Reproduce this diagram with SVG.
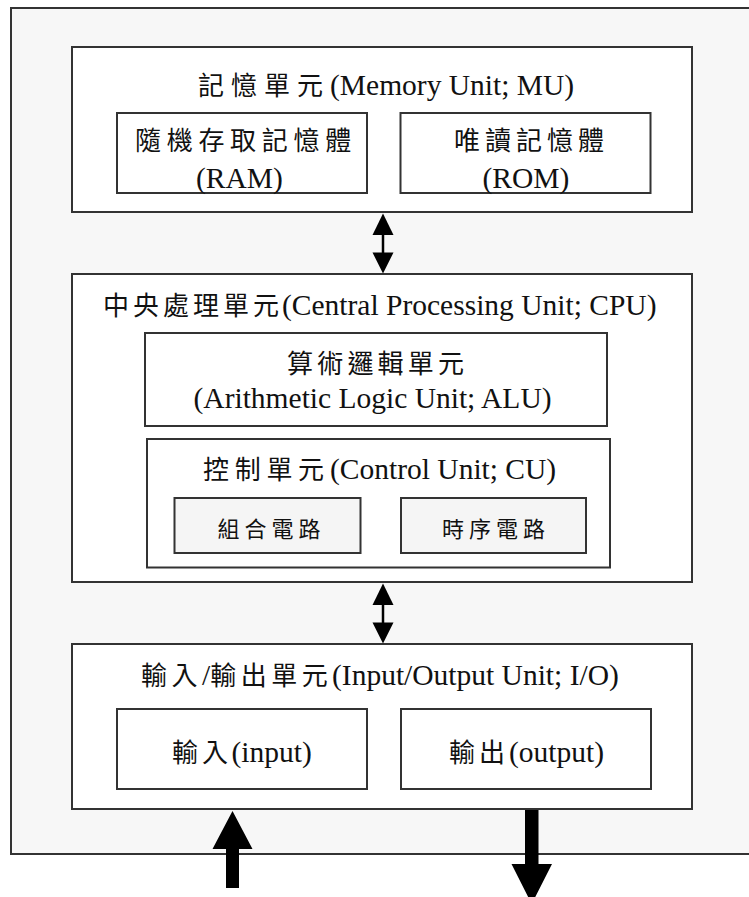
<svg xmlns="http://www.w3.org/2000/svg" width="749" height="897" viewBox="0 0 749 897">
<style>
.frame{fill:#f7f7f7;stroke:#333;stroke-width:2}
.box{fill:#ffffff;stroke:#333;stroke-width:2}
.sub{fill:#f5f5f5;stroke:#333;stroke-width:2}
.t{fill:#111}
.cjk{font-family:"Noto Sans CJK TC","Noto Sans CJK SC",sans-serif;font-size:26px}
.cjks{font-family:"Noto Sans CJK TC","Noto Sans CJK SC",sans-serif;font-size:22px;letter-spacing:5px}
.lat{font-family:"Liberation Serif","Times New Roman",serif;font-size:29.5px}
.arr{fill:#000;stroke:none}
</style>
<rect width="749" height="897" fill="#ffffff"/>
<rect id="frame" class="frame" x="11" y="8" width="760" height="846"/>

<g id="memory-unit">
<rect class="box" x="72" y="47" width="620" height="165"/>
<text class="t" y="95"><tspan class="cjk" x="198" style="letter-spacing:7px">記憶單元</tspan><tspan class="lat" x="330">(Memory Unit; MU)</tspan></text>
</g>
<g id="ram">
<rect class="box" x="117" y="113" width="250" height="80"/>
<text class="t cjk" x="135" y="150" style="letter-spacing:5.7px">隨機存取記憶體</text>
<text class="t lat" x="196" y="188">(RAM)</text>
</g>
<g id="rom">
<rect class="box" x="400.5" y="113" width="250" height="80"/>
<text class="t cjk" x="454" y="150" style="letter-spacing:5px">唯讀記憶體</text>
<text class="t lat" x="482.5" y="188">(ROM)</text>
</g>

<g id="cpu">
<rect class="box" x="72" y="274" width="620" height="308"/>
<text class="t" y="315"><tspan class="cjk" x="103" style="letter-spacing:4px">中央處理單元</tspan><tspan class="lat" x="282">(Central Processing Unit; CPU)</tspan></text>
</g>
<g id="alu">
<rect class="box" x="145" y="333" width="462" height="93"/>
<text class="t cjk" x="287" y="373" style="letter-spacing:4.2px">算術邏輯單元</text>
<text class="t lat" x="193.5" y="408">(Arithmetic Logic Unit; ALU)</text>
</g>
<g id="cu">
<rect class="box" x="147" y="439" width="463" height="128.5"/>
<text class="t" y="479"><tspan class="cjk" x="203" style="letter-spacing:5.7px">控制單元</tspan><tspan class="lat" x="330">(Control Unit; CU)</tspan></text>
</g>
<g id="combinational">
<rect class="sub" x="174.5" y="498" width="186" height="55"/>
<text class="t cjks" x="217.5" y="537">組合電路</text>
</g>
<g id="sequential">
<rect class="sub" x="401" y="498" width="185" height="55"/>
<text class="t cjks" x="442" y="537">時序電路</text>
</g>

<g id="io-unit">
<rect class="box" x="72" y="644" width="620" height="165"/>
<text class="t" y="685"><tspan class="cjk" x="141" style="letter-spacing:4.5px">輸入</tspan><tspan class="lat">/</tspan><tspan class="cjk" style="letter-spacing:4.5px">輸出單元</tspan><tspan class="lat" x="332">(Input/Output Unit; I/O)</tspan></text>
</g>
<g id="input">
<rect class="box" x="117" y="709" width="250" height="80"/>
<text class="t" y="762"><tspan class="cjk" x="172" style="letter-spacing:4px">輸入</tspan><tspan class="lat" x="231.5">(input)</tspan></text>
</g>
<g id="output">
<rect class="box" x="401" y="709" width="250" height="80"/>
<text class="t" y="762"><tspan class="cjk" x="449" style="letter-spacing:4px">輸出</tspan><tspan class="lat" x="509">(output)</tspan></text>
</g>

<g id="connectors">
<line x1="383" y1="234" x2="383" y2="254" stroke="#000" stroke-width="2.5"/>
<polygon class="arr" points="383,213.5 372.5,235 393.5,235"/>
<polygon class="arr" points="372.5,252.5 393.5,252.5 383,273.5"/>
<line x1="383" y1="604" x2="383" y2="624" stroke="#000" stroke-width="2.5"/>
<polygon class="arr" points="383,583.5 372.5,605 393.5,605"/>
<polygon class="arr" points="372.5,622.5 393.5,622.5 383,643.5"/>
<polygon class="arr" points="226,888 239,888 239,849 252.5,849 232.5,811 212.5,849 226,849"/>
<polygon class="arr" points="525,810 538.5,810 538.5,864 552,864 531.7,904 511.5,864 525,864"/>
</g>
</svg>
